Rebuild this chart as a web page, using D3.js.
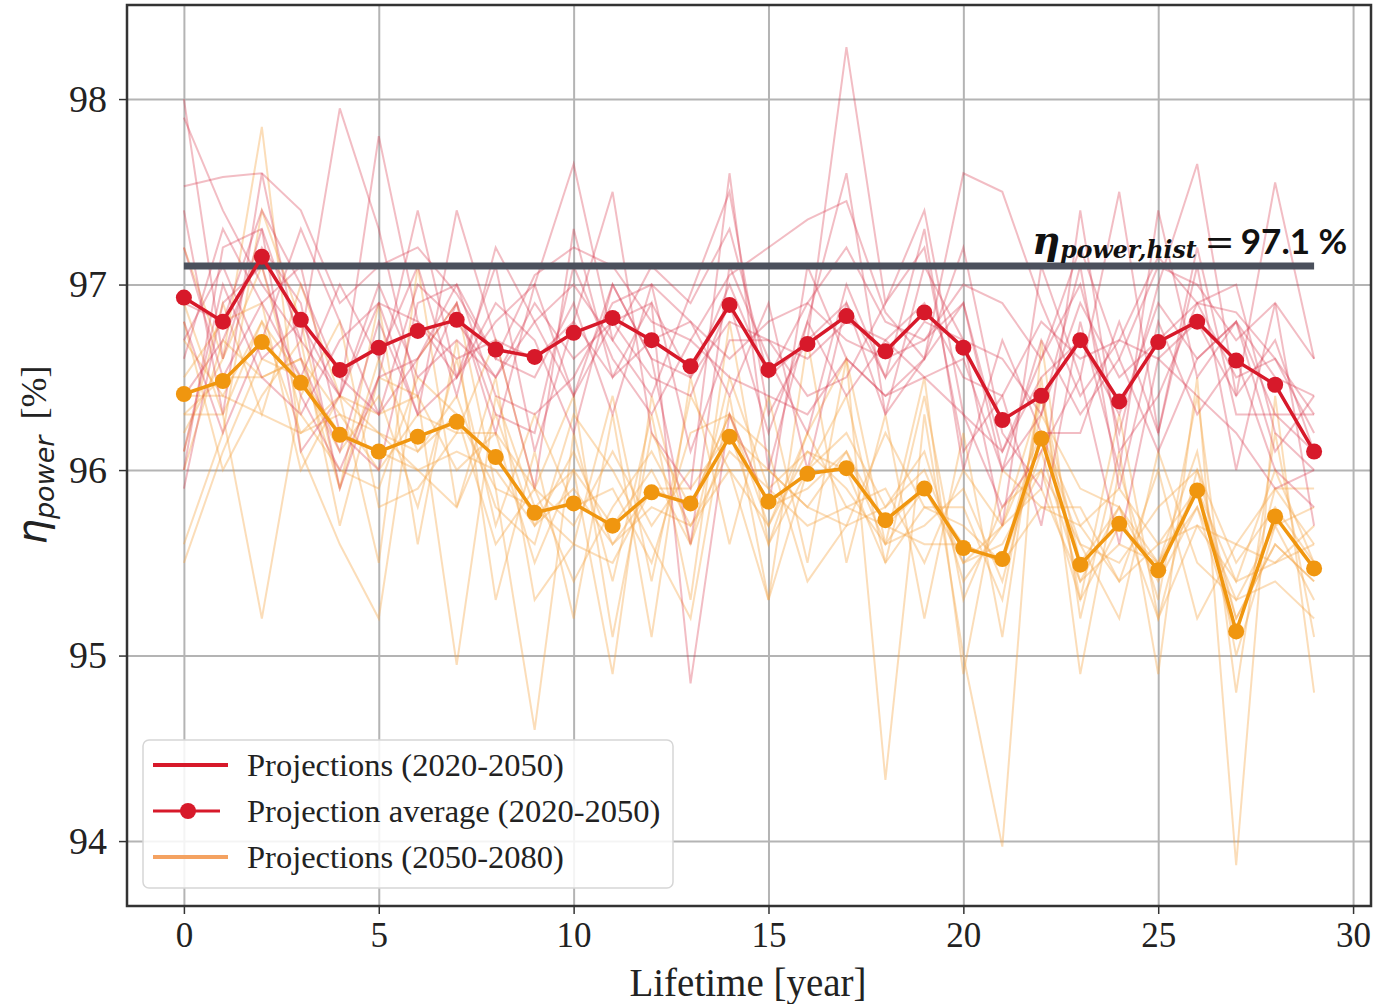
<!DOCTYPE html>
<html>
<head>
<meta charset="utf-8">
<script src="https://cdn.jsdelivr.net/npm/d3@7"></script>
<style>
  body { margin: 0; background: #fff; }
  svg { display: block; }
  .tick text { font-family: "Liberation Serif", "Times New Roman", serif; fill: #222; }
</style>
</head>
<body>
<svg id="chart" width="1374" height="1004"></svg>
<script>
// lifetime years
const years = d3.range(0, 30);

// average of projections
const avg2020 = [96.93,96.80,97.15,96.81,96.54,96.66,96.75,96.81,96.65,96.61,96.74,96.82,96.70,96.56,96.89,96.54,96.68,96.83,96.64,96.85,96.66,96.27,96.40,96.70,96.37,96.69,96.80,96.59,96.46,96.10];
const avg2050 = [96.41,96.48,96.69,96.47,96.19,96.10,96.18,96.26,96.07,95.77,95.82,95.70,95.88,95.82,96.18,95.83,95.98,96.01,95.73,95.90,95.58,95.52,96.17,95.49,95.71,95.46,95.89,95.13,95.75,95.47];

// individual projections 2020-2050
const proj2020 = [
  [97.53,97.58,97.60,97.40,96.90,97.10,97.20,96.95,96.60,97.05,97.20,97.10,96.80,96.70,97.05,97.20,97.35,97.45,96.85,96.60,97.60,97.50,96.90,96.40,96.70,97.15,96.90,96.85,96.60,96.20],
  [97.90,97.40,97.00,96.70,97.95,97.30,96.40,96.90,96.20,97.00,97.65,96.70,96.40,96.95,97.50,96.30,96.70,98.28,96.90,97.40,96.30,96.10,96.60,97.00,96.20,97.00,97.65,96.40,97.55,96.60],
  [98.00,96.60,97.30,96.10,96.40,97.80,96.80,96.50,97.10,96.10,96.80,97.50,96.20,95.90,97.60,96.00,96.80,97.60,96.30,97.10,96.70,95.70,97.10,96.50,97.50,96.20,97.10,96.00,96.90,95.70],
  [96.60,97.30,96.90,97.10,96.20,96.00,96.90,97.00,96.40,96.30,96.50,96.90,97.00,96.10,96.70,96.70,96.40,96.50,96.90,97.20,96.10,96.40,95.70,96.80,96.00,97.40,96.50,96.80,96.10,96.40],
  [97.40,96.30,97.60,96.60,96.10,96.80,96.30,97.40,96.70,95.90,97.30,96.50,96.90,94.85,96.30,95.80,97.10,96.60,96.40,96.60,96.90,96.00,96.30,97.10,95.90,96.80,96.30,96.60,96.00,95.80],
  [96.40,96.70,97.20,96.90,95.90,96.50,97.40,96.50,96.90,96.70,96.20,97.00,96.60,95.60,97.10,96.60,96.20,97.00,96.50,97.30,96.00,96.70,96.20,96.20,96.80,96.20,97.20,96.30,96.30,96.30],
  [96.80,96.20,96.70,97.30,96.80,96.30,96.60,97.00,96.60,96.50,96.90,96.30,97.00,96.80,96.40,96.90,96.00,96.90,96.30,96.60,97.20,96.20,95.90,97.40,96.10,96.40,96.90,97.00,96.20,96.00],
  [96.10,97.00,96.50,96.30,96.70,96.90,96.30,96.50,96.80,97.00,96.40,96.80,96.50,96.40,96.90,96.20,96.80,96.40,96.70,96.50,96.60,96.00,96.70,96.30,96.60,96.10,96.60,96.80,96.50,96.40],
  [96.90,96.80,97.40,97.00,96.50,96.30,97.00,96.80,96.50,96.90,96.60,96.80,96.90,96.50,96.80,96.70,96.60,96.80,96.70,96.90,96.50,96.40,96.80,96.60,96.70,96.60,96.80,96.40,96.70,96.10],
  [96.00,97.20,97.30,96.70,96.40,96.90,96.80,96.60,96.70,96.60,96.80,96.50,96.70,96.80,96.60,96.80,96.90,96.70,96.60,96.70,96.90,96.10,96.50,96.70,96.30,96.90,96.60,96.80,96.30,96.10],
  [97.20,96.50,96.90,96.50,97.00,96.60,97.10,96.40,97.20,96.80,97.00,96.70,97.10,96.90,97.30,96.50,96.90,97.20,96.80,96.70,97.00,96.90,96.60,97.20,96.60,97.10,97.00,96.70,96.90,96.60],
  [95.90,96.90,97.10,96.40,96.00,96.50,96.60,96.90,96.30,96.20,97.10,96.60,96.30,96.70,96.50,96.40,96.30,96.60,96.40,96.50,96.30,95.80,96.10,96.50,95.60,96.60,96.40,96.20,95.90,96.00],
  [96.70,97.10,96.60,96.80,96.40,97.00,96.50,96.70,96.50,96.80,96.40,97.00,96.60,96.50,97.00,96.50,96.70,96.90,96.50,96.80,96.70,96.60,96.30,96.90,96.50,96.70,96.90,96.50,96.60,96.30]
];

// individual projections 2050-2080
const proj2050 = [
  [97.20,96.60,97.85,96.10,95.60,95.20,96.60,96.90,95.90,94.60,96.20,95.40,96.30,95.30,96.80,95.60,96.20,96.60,94.33,96.30,95.00,93.97,96.70,95.20,96.10,94.90,96.50,93.87,96.40,94.80],
  [96.10,96.90,96.30,97.00,96.40,95.50,97.10,95.80,96.50,95.30,95.60,96.40,95.40,96.40,96.00,95.30,96.70,95.50,96.30,95.20,96.20,95.10,96.50,94.90,96.00,95.30,96.40,94.80,96.20,95.10],
  [95.60,96.20,97.40,96.80,95.90,96.90,95.60,96.70,95.30,96.10,95.20,96.30,95.10,96.50,95.60,96.40,95.50,96.60,95.60,96.50,94.90,96.00,95.80,95.70,95.40,96.00,95.20,95.60,95.90,95.90],
  [96.90,96.30,95.20,96.40,96.80,95.80,95.90,96.20,96.70,95.90,96.40,95.10,96.20,95.80,96.30,96.10,95.40,95.70,95.80,96.00,95.50,95.70,96.40,95.30,96.30,95.20,95.70,95.40,95.50,95.60],
  [96.50,96.80,96.90,96.00,96.40,96.30,96.40,94.95,96.40,95.80,96.00,94.90,96.40,95.60,96.50,95.90,96.10,95.90,95.60,95.70,95.90,95.40,96.20,95.60,95.50,95.80,96.00,95.20,95.60,95.40],
  [96.00,96.70,96.50,96.60,95.90,96.60,96.10,96.40,95.80,95.60,96.30,96.00,95.60,95.20,96.40,95.30,96.00,96.40,95.50,96.40,95.30,95.80,96.00,95.60,95.20,96.10,95.50,95.30,95.40,95.20],
  [96.70,96.40,96.80,96.20,96.30,96.00,96.30,96.20,96.20,95.90,95.40,95.80,96.10,95.70,96.00,96.00,95.80,95.70,96.20,95.80,95.70,95.50,96.30,95.90,95.80,95.50,96.10,95.00,95.70,95.80],
  [95.50,96.10,96.60,96.50,96.10,96.40,95.80,96.60,95.70,96.30,95.80,95.90,95.50,96.20,96.30,95.70,96.20,95.80,95.90,95.50,96.00,95.70,95.90,95.40,95.80,95.20,96.00,95.50,95.80,95.50],
  [96.30,96.50,96.50,96.60,96.30,96.20,96.00,96.10,96.00,95.70,96.10,95.60,95.90,95.80,96.30,95.80,95.90,96.10,95.70,95.90,95.60,95.50,96.10,95.40,95.60,95.50,95.80,95.10,95.90,95.60],
  [96.30,96.30,96.80,96.50,96.20,96.10,96.00,95.80,96.30,95.70,95.90,95.60,95.80,95.70,96.10,95.90,95.70,95.80,95.70,95.60,95.60,95.50,95.80,95.80,95.40,95.60,95.70,95.60,95.50,95.70],
  [96.80,96.00,96.40,96.70,95.70,96.50,96.40,96.00,96.20,95.50,96.00,95.70,96.00,95.60,96.20,95.60,96.00,96.20,95.80,96.10,95.40,95.70,96.20,95.70,95.90,95.60,95.90,95.40,96.00,95.50],
  [96.20,96.60,97.10,96.30,96.00,95.90,96.50,96.30,95.60,95.90,95.70,96.10,95.70,96.00,96.00,95.70,96.10,96.00,95.50,95.80,95.80,95.30,96.40,95.50,95.80,95.40,95.80,95.30,95.70,95.30],
  [96.40,96.40,96.30,96.20,96.40,96.20,96.10,96.30,95.90,95.80,95.60,95.50,95.90,95.90,96.20,96.00,95.80,96.10,95.60,95.90,95.50,95.60,96.00,95.30,95.70,95.50,95.90,95.20,95.60,95.40]
];

const histValue = 97.1;
const xTicks = [0, 5, 10, 15, 20, 25, 30];
const yTicks = [94, 95, 96, 97, 98];
const legendItems = ["Projections (2020-2050)", "Projection average (2020-2050)", "Projections (2050-2080)"];

const plot = { left: 127, right: 1371, top: 5, bottom: 906 };
const svg = d3.select("#chart");

const x = d3.scaleLinear().domain([-1.46, 30.46]).range([plot.left, plot.right]);
const y = d3.scaleLinear().domain([93.65, 98.507]).range([plot.bottom, plot.top]);

const redMean = "#d7192a";
const orangeMean = "#f0960f";
const redFaint = "rgba(216,50,70,0.32)";
const orangeFaint = "rgba(245,165,70,0.38)";

// grid
svg.append("g")
    .attr("transform", `translate(0,${plot.bottom})`)
    .call(d3.axisBottom(x).tickValues(xTicks).tickSize(-(plot.bottom - plot.top)).tickFormat(""))
    .call(g => g.select(".domain").remove())
    .call(g => g.selectAll("line").attr("stroke", "#b4b4b4").attr("stroke-width", 2));
svg.append("g")
    .attr("transform", `translate(${plot.left},0)`)
    .call(d3.axisLeft(y).tickValues(yTicks).tickSize(-(plot.right - plot.left)).tickFormat(""))
    .call(g => g.select(".domain").remove())
    .call(g => g.selectAll("line").attr("stroke", "#b4b4b4").attr("stroke-width", 2));

const line = d3.line().x((d, i) => x(years[i])).y(d => y(d));

// faint projection lines
svg.append("g").selectAll("path")
    .data(proj2050)
    .join("path")
    .attr("d", line)
    .attr("fill", "none")
    .attr("stroke", orangeFaint)
    .attr("stroke-width", 2);
svg.append("g").selectAll("path")
    .data(proj2020)
    .join("path")
    .attr("d", line)
    .attr("fill", "none")
    .attr("stroke", redFaint)
    .attr("stroke-width", 2);

// historical reference line
svg.append("line")
    .attr("x1", x(0)).attr("x2", x(29))
    .attr("y1", y(histValue)).attr("y2", y(histValue))
    .attr("stroke", "#4b505c")
    .attr("stroke-width", 7);

// average lines with markers
function drawMean(values, color) {
  svg.append("path")
      .datum(values)
      .attr("d", line)
      .attr("fill", "none")
      .attr("stroke", color)
      .attr("stroke-width", 3.5);
  svg.append("g").selectAll("circle")
      .data(values)
      .join("circle")
      .attr("cx", (d, i) => x(years[i]))
      .attr("cy", d => y(d))
      .attr("r", 8)
      .attr("fill", color);
}
drawMean(avg2050, orangeMean);
drawMean(avg2020, redMean);

// annotation
const ann = svg.append("text")
    .attr("x", 1032)
    .attr("y", 254)
    .attr("font-weight", "bold")
    .attr("fill", "#111");
ann.append("tspan")
    .attr("font-family", "DejaVu Serif, serif")
    .attr("font-style", "italic")
    .attr("font-size", 39)
    .text("η");
ann.append("tspan")
    .attr("font-family", "DejaVu Serif, serif")
    .attr("font-style", "italic")
    .attr("font-size", 23.5)
    .attr("dy", 4)
    .text("power,hist");
ann.append("tspan")
    .attr("font-family", "DejaVu Serif, serif")
    .attr("font-weight", "normal")
    .attr("font-size", 36)
    .attr("dx", 8)
    .attr("dy", -4)
    .text("=");
ann.append("tspan")
    .attr("font-family", "Lato, sans-serif")
    .attr("font-size", 35)
    .attr("dx", 6)
    .text("97.1 %");

// frame
svg.append("rect")
    .attr("x", plot.left).attr("y", plot.top)
    .attr("width", plot.right - plot.left).attr("height", plot.bottom - plot.top)
    .attr("fill", "none")
    .attr("stroke", "#333")
    .attr("stroke-width", 2.5);

// axes
svg.append("g")
    .attr("transform", `translate(0,${plot.bottom})`)
    .call(d3.axisBottom(x).tickValues(xTicks).tickSize(8).tickPadding(8))
    .call(g => g.select(".domain").remove())
    .call(g => g.selectAll("line").attr("stroke", "#333").attr("stroke-width", 1.5))
    .call(g => g.selectAll("text").attr("font-size", 35));
svg.append("g")
    .attr("transform", `translate(${plot.left},0)`)
    .call(d3.axisLeft(y).tickValues(yTicks).tickSize(8).tickPadding(12).tickFormat(d3.format("d")))
    .call(g => g.select(".domain").remove())
    .call(g => g.selectAll("line").attr("stroke", "#333").attr("stroke-width", 1.5))
    .call(g => g.selectAll("text").attr("font-size", 38));

// axis titles
svg.append("text")
    .attr("x", 748)
    .attr("y", 996)
    .attr("text-anchor", "middle")
    .attr("font-family", "Liberation Serif, serif")
    .attr("font-size", 39)
    .attr("fill", "#222")
    .text("Lifetime [year]");

const yl = svg.append("text")
    .attr("transform", "translate(46,455) rotate(-90)")
    .attr("text-anchor", "middle")
    .attr("fill", "#222");
yl.append("tspan")
    .attr("font-family", "DejaVu Sans, sans-serif")
    .attr("font-style", "italic")
    .attr("font-size", 40)
    .text("η");
yl.append("tspan")
    .attr("font-family", "DejaVu Sans, sans-serif")
    .attr("font-style", "italic")
    .attr("font-size", 27)
    .attr("dy", 8)
    .text("power");
yl.append("tspan")
    .attr("font-family", "Liberation Serif, serif")
    .attr("font-size", 36)
    .attr("dy", -8)
    .attr("dx", 16)
    .text("[%]");

// legend
const legend = svg.append("g");
legend.append("rect")
    .attr("x", 143).attr("y", 740)
    .attr("width", 530).attr("height", 148)
    .attr("rx", 6)
    .attr("fill", "rgba(255,255,255,0.85)")
    .attr("stroke", "#d6d6d6")
    .attr("stroke-width", 1.5);
const legendColors = [redMean, redMean, "#f4a261"];
legendItems.forEach((label, i) => {
  const ly = 765 + i * 46;
  legend.append("line")
      .attr("x1", 153).attr("x2", i === 1 ? 220 : 228)
      .attr("y1", ly).attr("y2", ly)
      .attr("stroke", legendColors[i])
      .attr("stroke-width", i === 1 ? 3 : 4);
  if (i === 1) {
    legend.append("circle").attr("cx", 188).attr("cy", ly).attr("r", 8).attr("fill", redMean);
  }
  legend.append("text")
      .attr("x", 247).attr("y", ly + 11)
      .attr("font-family", "Liberation Serif, serif")
      .attr("font-size", 32.5)
      .attr("fill", "#222")
      .text(label);
});
</script>
</body>
</html>
